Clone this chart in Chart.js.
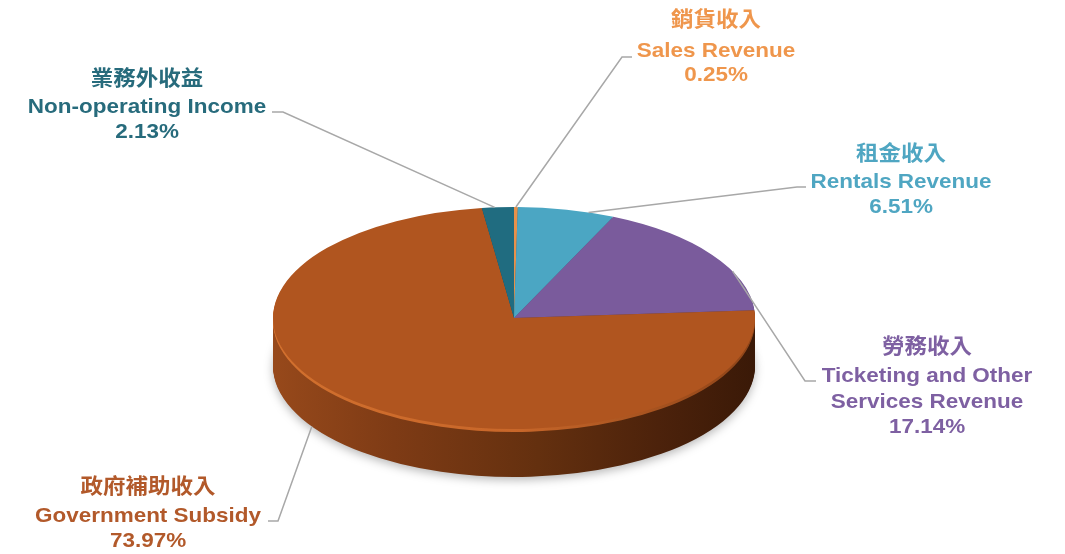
<!DOCTYPE html>
<html>
<head>
<meta charset="utf-8">
<script src="https://cdn.jsdelivr.net/npm/chart.js@4.4.1/dist/chart.umd.min.js"></script>
<style>
  html, body { margin: 0; padding: 0; background: #ffffff; overflow: hidden; }
  canvas { display: block; }
</style>
</head>
<body>
<canvas id="revenuePie" width="1065" height="554"></canvas>
<script>
// Revenue breakdown (percent of total)
const categoriesZh = ['銷貨收入', '租金收入', '勞務收入', '政府補助收入', '業務外收益'];
const categoriesEn = [
  ['Sales Revenue'],
  ['Rentals Revenue'],
  ['Ticketing and Other', 'Services Revenue'],
  ['Government Subsidy'],
  ['Non-operating Income']
];
const shares = [0.25, 6.51, 17.14, 73.97, 2.13];

// Slice styling
const topColors  = ['#E8914A', '#4BA6C3', '#7A5B9C', '#B0551F', '#206C80'];
const textColors = ['#EF964C', '#4FA6C2', '#7E60A2', '#B2592A', '#276B7C'];
const sideColors = ['#9A5A2A', '#2C6F86', '#4E3A66', null, '#14485A'];

// Tilted-disc look: screen centre line, vertical half-axis and rim thickness
const DISC = { cy: 318, ry: 111, depth: 48 };

// Label blocks: text centre, line positions, leader elbow/end, anchor position inside the slice
const labelLayout = [
  { x: 716, zhY: 18,  enY: [57],       pctY: 81,  elbow: [622, 57],  end: [632, 57],  anchor: 0.5,  onBase: false },
  { x: 901, zhY: 152, enY: [188],      pctY: 213, elbow: [797, 187], end: [806, 187], anchor: 0.73, onBase: false },
  { x: 927, zhY: 345, enY: [382, 408], pctY: 433, elbow: [805, 381], end: [816, 381], anchor: 0.66, onBase: false },
  { x: 148, zhY: 485, enY: [522],      pctY: 547, elbow: [278, 521], end: [268, 521], anchor: 0.567, onBase: true },
  { x: 147, zhY: 77,  enY: [113],      pctY: 138, elbow: [283, 112], end: [272, 112], anchor: 0.4,  onBase: false }
];

const TEXT_STRETCH = 1.07;
const ZH_FONT = 'bold 21px "Noto Sans CJK TC", "Noto Sans CJK SC", sans-serif';
const EN_FONT = 'bold 21px "Liberation Sans", Arial, sans-serif';

function discTransform(ctx, arc) {
  const k = DISC.ry / arc.outerRadius;
  ctx.translate(0, DISC.cy);
  ctx.scale(1, k);
  ctx.translate(0, -arc.y);
  return k;
}

function drawArcWithFill(ctx, arc, fill) {
  const proxy = Object.create(arc);
  proxy.options = Object.assign({}, arc.options, { backgroundColor: fill, borderWidth: 0 });
  arc.draw.call(proxy, ctx);
}

const discPlugin = {
  id: 'disc3d',
  beforeDatasetsDraw(chart) {
    const ctx = chart.ctx;
    const arcs = chart.getDatasetMeta(0).data;
    if (!arcs.length) return;
    const ref = arcs[0];
    ctx.save();
    const k = discTransform(ctx, ref);

    // side wall shading, darker to the right
    const left = ref.x - ref.outerRadius, right = ref.x + ref.outerRadius;
    const wall = ctx.createLinearGradient(left, 0, right, 0);
    wall.addColorStop(0, '#97491B');
    wall.addColorStop(0.25, '#7E3B15');
    wall.addColorStop(0.55, '#64300F');
    wall.addColorStop(0.8, '#4C220B');
    wall.addColorStop(1, '#3A1907');
    const rim = ctx.createLinearGradient(left, 0, right, 0);
    rim.addColorStop(0, '#D2702E');
    rim.addColorStop(0.5, '#C8672A');
    rim.addColorStop(1, '#8E4418');

    for (let d = DISC.depth; d >= 1; d--) {
      ctx.save();
      ctx.translate(0, d / k);
      if (d === DISC.depth) {
        ctx.shadowColor = 'rgba(0,0,0,0.28)';
        ctx.shadowBlur = 10;
        ctx.shadowOffsetY = 3;
      }
      arcs.forEach((arc, i) => {
        let fill = sideColors[i] || (d <= 3 ? rim : wall);
        drawArcWithFill(ctx, arc, fill);
      });
      ctx.restore();
    }
  },
  afterDatasetsDraw(chart) {
    const arcs = chart.getDatasetMeta(0).data;
    if (!arcs.length) return;
    chart.ctx.restore();
  },
  afterDraw(chart) {
    const ctx = chart.ctx;
    const arcs = chart.getDatasetMeta(0).data;
    if (!arcs.length) return;

    // leader lines
    ctx.save();
    ctx.strokeStyle = '#A8A8A8';
    ctx.lineWidth = 1.5;
    arcs.forEach((arc, i) => {
      const L = labelLayout[i];
      const k = DISC.ry / arc.outerRadius;
      const a = arc.startAngle + (arc.endAngle - arc.startAngle) * L.anchor;
      const ax = arc.x + arc.outerRadius * Math.cos(a);
      const ay = DISC.cy + k * arc.outerRadius * Math.sin(a) + (L.onBase ? DISC.depth : 0);
      ctx.beginPath();
      ctx.moveTo(ax, ay);
      ctx.lineTo(L.elbow[0], L.elbow[1]);
      ctx.lineTo(L.end[0], L.end[1]);
      ctx.stroke();
    });
    ctx.restore();

    // label text
    const put = (text, x, y, font, color, baseline) => {
      ctx.save();
      ctx.translate(x, y);
      ctx.scale(TEXT_STRETCH, 1);
      ctx.font = font;
      ctx.fillStyle = color;
      ctx.textAlign = 'center';
      ctx.textBaseline = baseline;
      ctx.fillText(text, 0, 0);
      ctx.restore();
    };
    arcs.forEach((arc, i) => {
      const L = labelLayout[i];
      const c = textColors[i];
      put(categoriesZh[i], L.x, L.zhY, ZH_FONT, c, 'middle');
      categoriesEn[i].forEach((line, j) => put(line, L.x, L.enY[j], EN_FONT, c, 'alphabetic'));
      put(shares[i].toFixed(2) + '%', L.x, L.pctY, EN_FONT, c, 'alphabetic');
    });
  }
};

new Chart(document.getElementById('revenuePie'), {
  type: 'pie',
  data: {
    labels: categoriesEn.map(l => l.join(' ')),
    datasets: [{
      data: shares,
      backgroundColor: topColors,
      borderWidth: 0,
      hoverOffset: 0,
      offset: 0
    }]
  },
  options: {
    responsive: false,
    devicePixelRatio: 1,
    animation: false,
    events: [],
    rotation: 0,
    radius: 241,
    layout: { padding: { left: 273, right: 310, top: 36, bottom: 36 } },
    plugins: {
      legend: { display: false },
      tooltip: { enabled: false }
    }
  },
  plugins: [discPlugin]
});
</script>
</body>
</html>
